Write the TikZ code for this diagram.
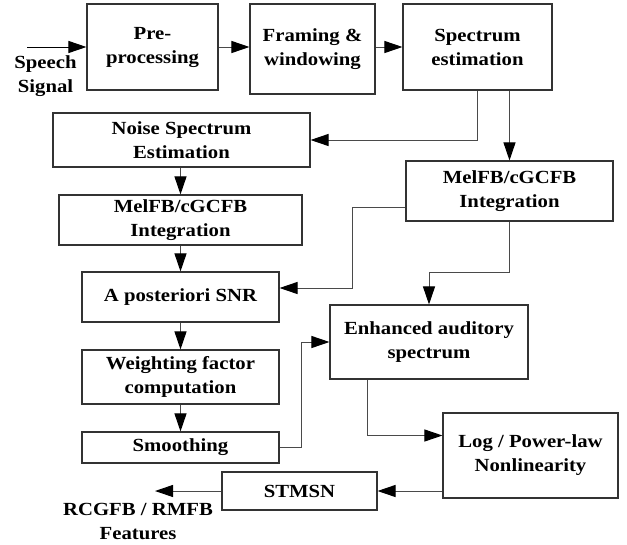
\documentclass[tikz,border=0pt]{standalone}
\usepackage{fontspec}
\setmainfont{Liberation Serif}[FakeStretch=1.12]
\usepackage{xcolor}
\usepackage{tikz}
\usetikzlibrary{arrows.meta,positioning}
\definecolor{boxline}{HTML}{333333}
\definecolor{wireline}{HTML}{4A4A4A}

\tikzset{
    block/.style={draw=boxline, line width=1.1pt, align=center, inner sep=0pt,
                  font=\fontsize{18.5}{24}\selectfont\bfseries},
    wire/.style={draw=wireline, line width=1pt,
                 -{Triangle[length=18pt,width=12pt,color=black]}},
    plain/.style={align=center, font=\fontsize{18.5}{24}\selectfont\bfseries}
}

\begin{document}
\begin{tikzpicture}[x=1pt, y=-1pt]
        \useasboundingbox (0,0) rectangle (627,544);
        % top row
        \node[block, minimum width=131pt, minimum height=86pt] (pre) at (152.5,47) {Pre-\\processing};
        \node[block, minimum width=125pt, minimum height=90pt] (frame) at (312.5,49) {Framing \&\\windowing};
        \node[block, minimum width=149pt, minimum height=86pt] (spec) at (477.5,47) {Spectrum\\estimation};
        \coordinate (in) at (27,47);
        \node[plain] (speech) at (45.5,76) {Speech\\Signal};
        % noise branch
        \node[block, minimum width=257pt, minimum height=54pt] (noise) at (181.5,140) {Noise Spectrum\\Estimation};
        \node[block, minimum width=243pt, minimum height=50pt] (melL) at (180.5,220) {MelFB/cGCFB\\Integration};
        \node[block, minimum width=197pt, minimum height=50pt] (apost) at (180.5,297) {A posteriori SNR};
        \node[block, minimum width=197pt, minimum height=54pt] (weight) at (180.5,377) {Weighting factor\\computation};
        \node[block, minimum width=197pt, minimum height=31pt] (smooth) at (180.5,447.5) {Smoothing};
        % speech branch
        \node[block, minimum width=207pt, minimum height=60pt] (melR) at (509.5,191) {MelFB/cGCFB\\Integration};
        \node[block, minimum width=198pt, minimum height=74pt] (enh) at (429,342) {Enhanced auditory\\spectrum};
        \node[block, minimum width=175pt, minimum height=85pt] (log) at (530.5,455.5) {Log / Power-law\\Nonlinearity};
        \node[block, minimum width=155pt, minimum height=38pt] (stmsn) at (299.5,491) {STMSN};
        \coordinate (out) at (155,491);
        \node[plain] (feat) at (138,521) {RCGFB / RMFB\\Features};

        \draw[wire, draw=black] (in) -- (pre.west);
        \draw[wire] (pre.east) -- (pre.east -| frame.west);
        \draw[wire] (frame.east |- spec.west) -- (spec.west);
        \draw[wire] (spec.south) |- (noise.east);
        \draw[wire] (melR.north |- spec.south) -- (melR.north);
        \draw[wire] (noise.south -| melL.north) -- (melL.north);
        \draw[wire] (melL.south) -- (apost.north);
        \draw[wire] ([yshift=-16pt]melR.west) -- ++(-53,0) |- ([yshift=9pt]apost.east);
        \draw[wire] (apost.south) -- (weight.north);
        \draw[wire] (weight.south) -- (smooth.north);
        \draw[wire] (melR.south) -- ++(0,51) -| (enh.north);
        \draw[wire] (smooth.east) -- ++(22,0) |- (enh.west);
        \draw[wire] ([xshift=-62pt]enh.south) |- ([yshift=20pt]log.west);
        \draw[wire] (stmsn.east -| log.west) -- (stmsn.east);
        \draw[wire] (stmsn.west) -- (out);
    \end{tikzpicture}
\end{document}
